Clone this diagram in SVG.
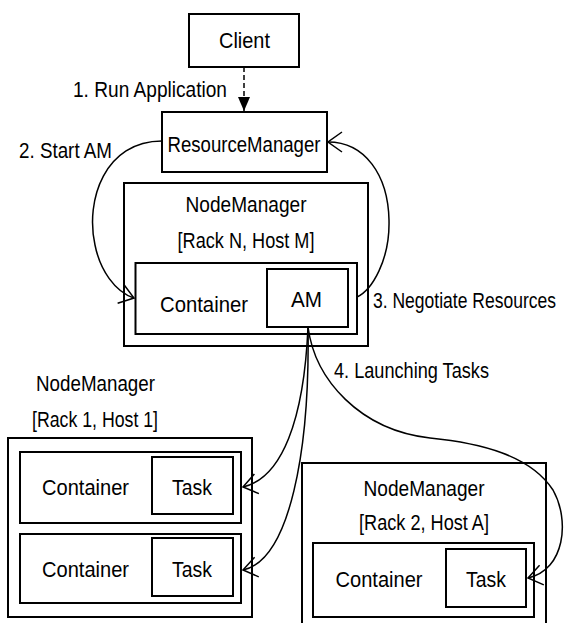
<svg xmlns="http://www.w3.org/2000/svg" width="565" height="623" viewBox="0 0 565 623">
<style>
.box{fill:#fff;stroke:#000;stroke-width:2}
.t{font-family:"Liberation Sans",Arial,sans-serif;font-size:21.5px;fill:#000}
.c{text-anchor:middle}
.con{fill:none;stroke:#000;stroke-width:1.5}
</style>
<defs>
<marker id="open" markerUnits="userSpaceOnUse" viewBox="-1 -1 16 22" markerWidth="16" markerHeight="22" refX="14" refY="10" orient="auto">
<path d="M0,0 L14,10 L0,20" fill="none" stroke="#000" stroke-width="1.5"/>
</marker>
<marker id="fill" markerUnits="userSpaceOnUse" viewBox="0 0 14 12" markerWidth="14" markerHeight="12" refX="14" refY="6" orient="auto">
<path d="M0,0 L14,6 L0,12 z" fill="#000"/>
</marker>
</defs>
<rect width="565" height="623" fill="#fff"/>
<g id="client">
<rect class="box" x="189" y="14" width="110" height="53"/>
<text class="t c" x="244.5" y="48" textLength="51" lengthAdjust="spacingAndGlyphs">Client</text>
</g>
<g id="resourcemanager">
<rect class="box" x="162" y="112" width="165" height="60"/>
<text class="t c" x="244" y="152" textLength="153" lengthAdjust="spacingAndGlyphs">ResourceManager</text>
</g>
<g id="nm-rackN">
<rect class="box" x="124" y="183" width="244" height="163"/>
<text class="t c" x="246" y="212" textLength="121" lengthAdjust="spacingAndGlyphs">NodeManager</text>
<text class="t c" x="246" y="248" textLength="137" lengthAdjust="spacingAndGlyphs">[Rack N, Host M]</text>
<g id="container-am">
<rect class="box" x="135.5" y="263" width="221.5" height="71"/>
<text class="t c" x="204" y="312" textLength="88" lengthAdjust="spacingAndGlyphs">Container</text>
</g>
<g id="am">
<rect class="box" x="267" y="269" width="81" height="58"/>
<text class="t c" x="306.5" y="307" textLength="31" lengthAdjust="spacingAndGlyphs">AM</text>
</g>
</g>
<g id="nm-rack1">
<rect class="box" x="8" y="438" width="244" height="179"/>
<text class="t c" x="95.5" y="391" textLength="119" lengthAdjust="spacingAndGlyphs">NodeManager</text>
<text class="t c" x="95" y="427" textLength="126" lengthAdjust="spacingAndGlyphs">[Rack 1, Host 1]</text>
<g id="container1">
<rect class="box" x="20" y="452" width="221" height="71"/>
<text class="t c" x="85.5" y="495" textLength="87" lengthAdjust="spacingAndGlyphs">Container</text>
<rect class="box" x="152" y="457" width="81" height="57"/>
<text class="t c" x="192" y="495" textLength="40" lengthAdjust="spacingAndGlyphs">Task</text>
</g>
<g id="container2">
<rect class="box" x="20" y="534" width="221" height="69"/>
<text class="t c" x="85.5" y="577" textLength="87" lengthAdjust="spacingAndGlyphs">Container</text>
<rect class="box" x="152" y="538" width="81" height="58"/>
<text class="t c" x="192" y="577" textLength="40" lengthAdjust="spacingAndGlyphs">Task</text>
</g>
</g>
<g id="nm-rack2">
<rect class="box" x="302" y="463" width="244" height="200"/>
<text class="t c" x="424" y="496" textLength="121" lengthAdjust="spacingAndGlyphs">NodeManager</text>
<text class="t c" x="424" y="530" textLength="130" lengthAdjust="spacingAndGlyphs">[Rack 2, Host A]</text>
<g id="container3">
<rect class="box" x="313" y="543" width="221" height="74"/>
<text class="t c" x="379" y="587" textLength="87" lengthAdjust="spacingAndGlyphs">Container</text>
<rect class="box" x="446" y="549" width="80" height="58"/>
<text class="t c" x="486" y="587" textLength="40" lengthAdjust="spacingAndGlyphs">Task</text>
</g>
</g>
<g id="connectors">
<path class="con" d="M244,67 L244,111" stroke-dasharray="5,3" marker-end="url(#fill)"/>
<path class="con" d="M162,141 C105,141 85,200 95,245 C100,270 115,292 134,298" marker-end="url(#open)"/>
<path class="con" d="M357,297 C372,290 390,260 389,220 C388,175 365,142 328,142" marker-end="url(#open)"/>
<path class="con" d="M308,327 C304,420 282,478 243,487" marker-end="url(#open)"/>
<path class="con" d="M308,327 C310,450 290,560 243,570" marker-end="url(#open)"/>
<path class="con" d="M308,327 C315,380 360,430 430,438 C480,443 530,455 553,490 C570,520 565,570 528,578" marker-end="url(#open)"/>
</g>
<g id="labels">
<text class="t" x="73" y="97" textLength="154" lengthAdjust="spacingAndGlyphs">1. Run Application</text>
<text class="t" x="19" y="158" textLength="93" lengthAdjust="spacingAndGlyphs">2. Start AM</text>
<text class="t" x="373" y="308" textLength="183" lengthAdjust="spacingAndGlyphs">3. Negotiate Resources</text>
<text class="t" x="334" y="378" textLength="155" lengthAdjust="spacingAndGlyphs">4. Launching Tasks</text>
</g>
</svg>
